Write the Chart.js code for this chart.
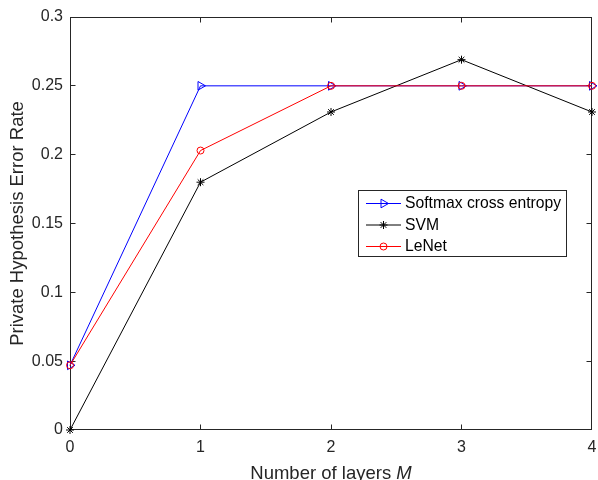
<!DOCTYPE html>
<html>
<head>
<meta charset="utf-8">
<script src="https://cdn.jsdelivr.net/npm/chart.js@4.4.1/dist/chart.umd.min.js"></script>
<style>
  body { margin: 0; background: #fff; }
  #wrap { width: 598px; height: 480px; }
</style>
</head>
<body>
<div id="wrap"><canvas id="chartjs"></canvas></div>
<script>
  let layers = [0, 1, 2, 3, 4];
  let softmax = [0.047, 0.25, 0.25, 0.25, 0.25];
  let svm = [0, 0.18, 0.231, 0.269, 0.231];
  let lenet = [0.047, 0.203, 0.25, 0.25, 0.25];
  let xTicks = [0, 1, 2, 3, 4];
  let yTicks = [0, 0.05, 0.1, 0.15, 0.2, 0.25, 0.3];
  let seriesNames = ['Softmax cross entropy', 'SVM', 'LeNet'];

  const axisColor = '#262626';
  const family = '"Liberation Sans", Arial, Helvetica, sans-serif';

  function pts(values) {
    return layers.map(function (x, i) { return {x: x, y: values[i]}; });
  }

  // box, inward ticks, titles and legend, MATLAB style
  const matlabPlugin = {
    id: 'matlab',
    beforeDatasetsDraw(chart) {
      const {ctx, chartArea: a, scales} = chart;
      const L = Math.round(a.left) + 0.5, R = Math.round(a.right) - 0.5;
      const T = Math.round(a.top) + 0.5, B = Math.round(a.bottom) - 0.5;
      ctx.save();
      ctx.strokeStyle = axisColor;
      ctx.lineWidth = 1;
      ctx.strokeRect(L, T, R - L, B - T);
      ctx.beginPath();
      xTicks.forEach(function (v) {
        let px = Math.min(Math.max(Math.floor(scales.x.getPixelForValue(v)) + 0.5, L), R);
        ctx.moveTo(px, B); ctx.lineTo(px, B - 5);
        ctx.moveTo(px, T); ctx.lineTo(px, T + 5);
      });
      yTicks.forEach(function (v) {
        let py = Math.min(Math.max(Math.floor(scales.y.getPixelForValue(v)) + 0.5, T), B);
        ctx.moveTo(L, py); ctx.lineTo(L + 5, py);
        ctx.moveTo(R, py); ctx.lineTo(R - 5, py);
      });
      ctx.stroke();
      ctx.restore();
    },
    afterDraw(chart) {
      const {ctx, chartArea: a} = chart;
      const f1 = '18.5px ' + family;
      const f2 = 'italic ' + f1;
      ctx.save();
      ctx.fillStyle = axisColor;
      ctx.textBaseline = 'alphabetic';
      ctx.textAlign = 'left';
      // x title with italic M
      const t1 = 'Number of layers ';
      ctx.font = f2;
      const wM = ctx.measureText('M').width;
      ctx.font = f1;
      const w1 = ctx.measureText(t1).width;
      const x0 = (a.left + a.right) / 2 - (w1 + wM) / 2;
      ctx.fillText(t1, x0, 479);
      ctx.font = f2;
      ctx.fillText('M', x0 + w1, 479);
      // y title
      ctx.font = f1;
      ctx.save();
      ctx.translate(23, (a.top + a.bottom) / 2);
      ctx.rotate(-Math.PI / 2);
      ctx.textAlign = 'center';
      ctx.fillText('Private Hypothesis Error Rate', 0, 0);
      ctx.restore();

      // legend
      ctx.fillStyle = '#ffffff';
      ctx.fillRect(358.5, 190.5, 208, 66);
      ctx.strokeStyle = axisColor;
      ctx.lineWidth = 1;
      ctx.strokeRect(358.5, 190.5, 208, 66);
      ctx.font = '15.7px ' + family;
      ctx.textBaseline = 'middle';
      chart.data.datasets.forEach(function (ds, i) {
        const y = 203.5 + i * 21.5;
        ctx.strokeStyle = ds.borderColor;
        ctx.beginPath();
        ctx.moveTo(366, y);
        ctx.lineTo(401, y);
        ctx.stroke();
        ctx.fillStyle = 'rgba(0,0,0,0)';
        Chart.helpers.drawPoint(ctx, {
          pointStyle: ds.pointStyle,
          rotation: ds.pointRotation || 0,
          radius: ds.pointRadius,
          borderWidth: 1
        }, 383.5, y);
        ctx.fillStyle = '#000000';
        ctx.fillText(ds.label, 405, y + 0.5);
      });
      ctx.restore();
    }
  };

  const tickFont = {family: family, size: 16};

  const ctx = document.getElementById('chartjs');
  new Chart(ctx, {
    type: 'line',
    data: {
      datasets: [{
        label: seriesNames[0],
        data: pts(softmax),
        borderColor: '#0000ff',
        pointBorderColor: '#0000ff',
        pointBackgroundColor: 'rgba(0,0,0,0)',
        pointStyle: 'triangle',
        pointRotation: 90,
        pointRadius: 5,
        pointBorderWidth: 1,
        borderWidth: 1,
        tension: 0,
        clip: false,
        order: 2
      }, {
        label: seriesNames[1],
        data: pts(svm),
        borderColor: '#000000',
        pointBorderColor: '#000000',
        pointBackgroundColor: 'rgba(0,0,0,0)',
        pointStyle: 'star',
        pointRadius: 4,
        pointBorderWidth: 1,
        borderWidth: 1,
        tension: 0,
        clip: false,
        order: 1
      }, {
        label: seriesNames[2],
        data: pts(lenet),
        borderColor: '#ff0000',
        pointBorderColor: '#ff0000',
        pointBackgroundColor: 'rgba(0,0,0,0)',
        pointStyle: 'circle',
        pointRadius: 3.5,
        pointBorderWidth: 1,
        borderWidth: 1,
        tension: 0,
        clip: false,
        order: 0
      }]
    },
    options: {
      animation: false,
      responsive: true,
      maintainAspectRatio: false,
      devicePixelRatio: 1,
      layout: {padding: {top: 17, right: 5, left: 0, bottom: 0}},
      plugins: {legend: {display: false}, tooltip: {enabled: false}},
      scales: {
        x: {
          type: 'linear',
          min: 0,
          max: 4,
          grid: {display: false, drawTicks: false},
          border: {display: false},
          afterFit: function (s) { s.height = 50; s.paddingLeft = 0; s.paddingRight = 0; },
          afterBuildTicks: function (s) { s.ticks = xTicks.map(function (v) { return {value: v}; }); },
          ticks: {padding: 8, font: tickFont, color: axisColor, maxRotation: 0}
        },
        y: {
          type: 'linear',
          min: 0,
          max: 0.3,
          grid: {display: false, drawTicks: false},
          border: {display: false},
          afterFit: function (s) { s.width = 70; s.paddingTop = 0; s.paddingBottom = 0; },
          afterBuildTicks: function (s) { s.ticks = yTicks.map(function (v) { return {value: v}; }); },
          ticks: {
            padding: 7,
            font: tickFont,
            color: axisColor,
            callback: function (v) { return String(Number(v.toFixed(2))); }
          }
        }
      }
    },
    plugins: [matlabPlugin]
  });
</script>
</body>
</html>
